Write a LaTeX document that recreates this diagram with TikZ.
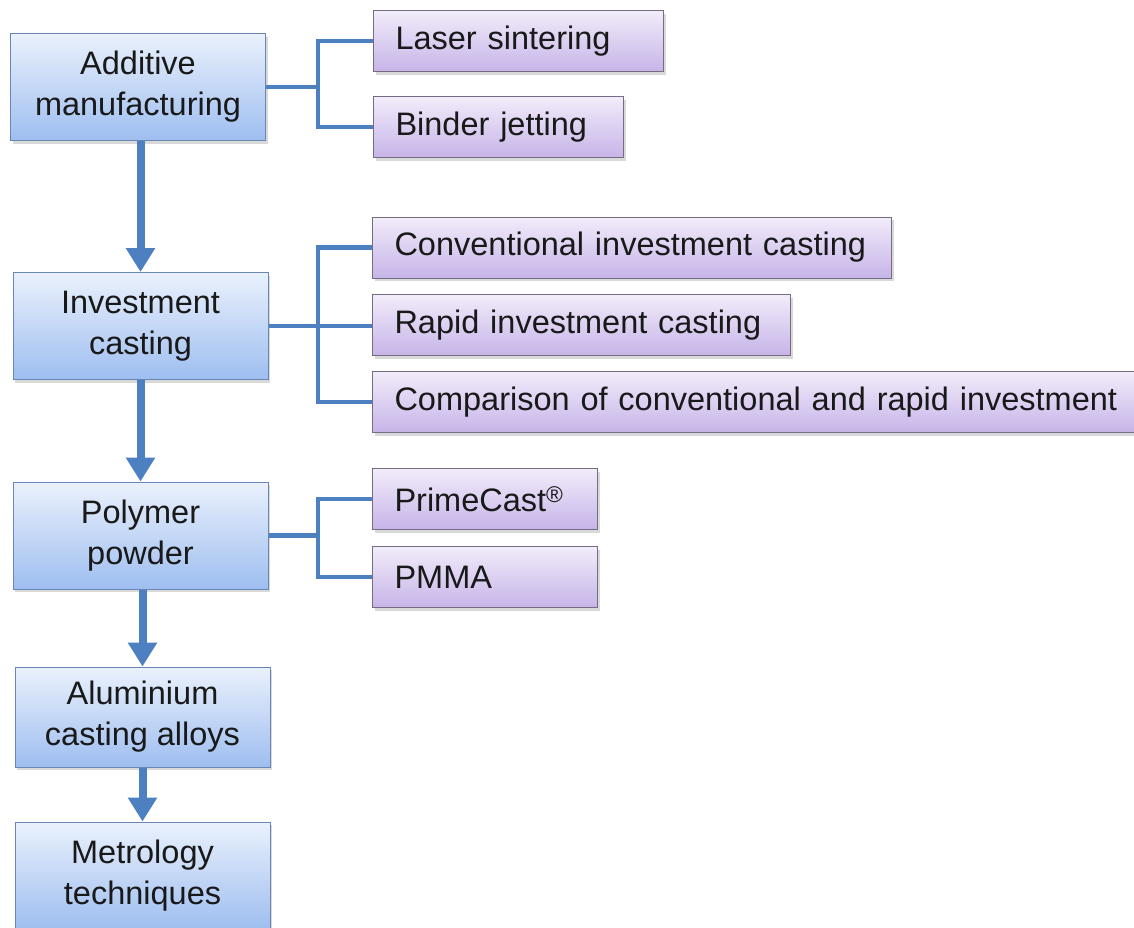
\documentclass[tikz,border=0pt]{standalone}
\usepackage{fontspec}
\setmainfont{Liberation Sans}
\usetikzlibrary{arrows.meta,shadows}
\definecolor{bluetop}{RGB}{234,241,252}
\definecolor{bluebot}{RGB}{158,190,240}
\definecolor{blueedge}{RGB}{105,135,180}
\definecolor{purtop}{RGB}{242,236,250}
\definecolor{purbot}{RGB}{198,180,232}
\definecolor{puredge}{RGB}{118,108,132}
\definecolor{connc}{RGB}{76,128,192}
\definecolor{txt}{RGB}{25,25,25}
\tikzset{
  mainbox/.style={draw=blueedge, line width=1pt, top color=bluetop, bottom color=bluebot,
    minimum width=255pt, minimum height=107pt, align=center, inner sep=0pt,
    font=\fontsize{32.5}{41}\selectfont, text=txt,
    drop shadow={shadow xshift=2pt, shadow yshift=-3pt, opacity=0.3}},
  subbox/.style={draw=puredge, line width=1pt, top color=purtop, bottom color=purbot,
    minimum height=61pt, anchor=west, align=left, inner xsep=22pt, inner ysep=0pt,
    font=\fontsize{32.5}{40}\selectfont, text=txt,
    drop shadow={shadow xshift=2pt, shadow yshift=-3pt, opacity=0.3}},
  conn/.style={draw=connc, line width=4.5pt},
  flow/.style={draw=connc, line width=8pt, -{Triangle[width=28pt,length=24pt]}, color=connc}
}
\begin{document}
\begin{tikzpicture}[x=1pt,y=-1pt]
\useasboundingbox (0,0) rectangle (1134,927);
\clip (0,0) rectangle (1134,927);
% main column
\node[mainbox] (am) at (138,87) {Additive\\manufacturing};
\node[mainbox] (ic) at (140.5,326) {Investment\\casting};
\node[mainbox] (pp) at (140.5,535.5) {Polymer\\powder};
\node[mainbox, minimum height=100pt] (al) at (142.5,717) {Aluminium\\casting alloys};
\node[mainbox] (mt) at (142.5,875.5) {Metrology\\techniques};
% sub boxes
\node[subbox, text width=246pt] (ls) at (373,41) {Laser sintering};
\node[subbox, text width=206pt] (bj) at (373,127) {Binder jetting};
\node[subbox, text width=475pt] (ci) at (372,247.5) {Conventional investment casting};
\node[subbox, text width=374pt] (ri) at (372,325) {Rapid investment casting};
\node[subbox, text width=760pt] (cmp) at (372,402) {Comparison of conventional and rapid investment};
\node[subbox, text width=181pt] (pc) at (372,499) {PrimeCast\textsuperscript{®}};
\node[subbox, text width=181pt] (pm) at (372,577) {PMMA};
% bracket coordinates
\coordinate (b1) at (318,87);
\coordinate (b2) at (318,326);
\coordinate (b3) at (318,535.5);
% connectors
\draw[conn] (am.east) -- (b1);
\draw[conn] (ls.west) -| (b1) |- (bj.west);
\draw[conn] (ic.east) -- (ic.east -| ri.west);
\draw[conn] (ci.west) -| (b2) |- (cmp.west);
\draw[conn] (pp.east) -- (b3);
\draw[conn] (pc.west) -| (b3) |- (pm.west);
% flow arrows
\draw[flow] (am.south -| ic.north) -- (ic.north);
\draw[flow] (ic.south) -- (pp.north);
\draw[flow] (pp.south -| al.north) -- (al.north);
\draw[flow] (al.south) -- (mt.north);
\end{tikzpicture}
\end{document}
